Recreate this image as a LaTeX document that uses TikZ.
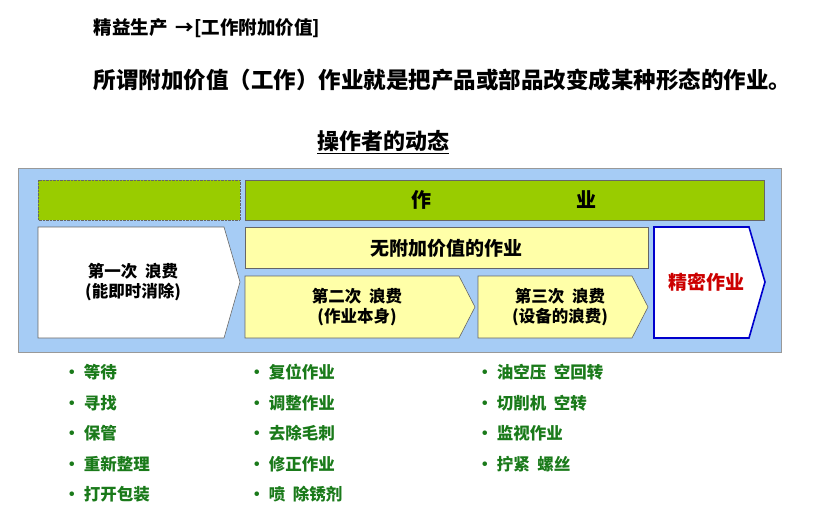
\documentclass[tikz,border=0pt]{standalone}
\usepackage{fontspec}
\setmainfont{Noto Sans CJK SC}
\usetikzlibrary{positioning}
\definecolor{panelblue}{HTML}{A6CCF5}
\definecolor{workgreen}{HTML}{99CC00}
\definecolor{paleyellow}{HTML}{FFFFA8}
\definecolor{listgreen}{HTML}{1A7A1A}
\tikzset{
  boxtxt/.style={font=\bfseries\fontsize{16.5}{20}\selectfont, align=center},
  itemtxt/.style={anchor=west, text=listgreen, font=\bfseries\fontsize{16.5}{18}\selectfont},
  outline/.style={draw=black!60, line width=0.6pt}
}
\begin{document}
\begin{tikzpicture}[x=1pt,y=-1pt]
	\useasboundingbox (0,0) rectangle (815,530);

	\node[anchor=west, font=\bfseries\fontsize{18.5}{21}\selectfont] (head) at (90,28) {精益生产\ \ →[工作附加价值]};
	\node[anchor=west, font=\bfseries\fontsize{22.5}{25}\selectfont] (def) at (90,80) {所谓附加价值（工作）作业就是把产品或部品改变成某种形态的作业。};
	\node[font=\bfseries\fontsize{22}{25}\selectfont] (ttl) at (383,142) {\underline{操作者的动态}};

	% panel
	\draw[fill=panelblue, draw=black!40] (18,168) rectangle (781,352);
	\draw[fill=workgreen, draw=black!60, densely dotted] (38,180) rectangle (240,220);
	\draw[fill=workgreen, outline] (245,180) rectangle (764,220);
	\node[boxtxt, font=\bfseries\fontsize{20}{23}\selectfont] (work) at (504,200) {作\hspace{145pt}业};

	% arrows
	\draw[fill=white, outline] (38,227) -- (224,227) -- (240,282) -- (224,338) -- (38,338) -- cycle;
	\node[boxtxt] (w1) at (133,282) {第一次\ \ 浪费\\(能即时消除)};
	\draw[fill=paleyellow, outline] (245,227) rectangle (648,268);
	\node[boxtxt, font=\bfseries\fontsize{19}{22}\selectfont] (nva) at (446,248) {无附加价值的作业};
	\draw[fill=paleyellow, outline] (245,276) -- (459,276) -- (475,307) -- (459,338) -- (245,338) -- cycle;
	\node[boxtxt] (w2) at (357,307) {第二次\ \ 浪费\\(作业本身)};
	\draw[fill=paleyellow, outline] (478,276) -- (632,276) -- (648,307) -- (632,338) -- (478,338) -- cycle;
	\node[boxtxt] (w3) at (560,307) {第三次\ \ 浪费\\(设备的浪费)};
	\draw[fill=white, draw=blue!80!black, line width=1.6pt] (654,227) -- (749,227) -- (765,282) -- (749,338) -- (654,338) -- cycle;
	\node[boxtxt, text=red!80!black, font=\bfseries\fontsize{19}{22}\selectfont] (prec) at (706,282) {精密作业};

	% lists
	\foreach \t [count=\i] in {等待,寻找,保管,重新整理,打开包装}
		\node[itemtxt] (a\i) at (60,{342+30.5*\i}) {・\ \t};
	\foreach \t [count=\i] in {复位作业,调整作业,去除毛刺,修正作业,喷\ \ 除锈剂}
		\node[itemtxt] (b\i) at (245,{342+30.5*\i}) {・\ \t};
	\foreach \t [count=\i] in {油空压\ \ 空回转,切削机\ \ 空转,监视作业,拧紧\ \ 螺丝}
		\node[itemtxt] (c\i) at (473,{342+30.5*\i}) {・\ \t};
\end{tikzpicture}
\end{document}
